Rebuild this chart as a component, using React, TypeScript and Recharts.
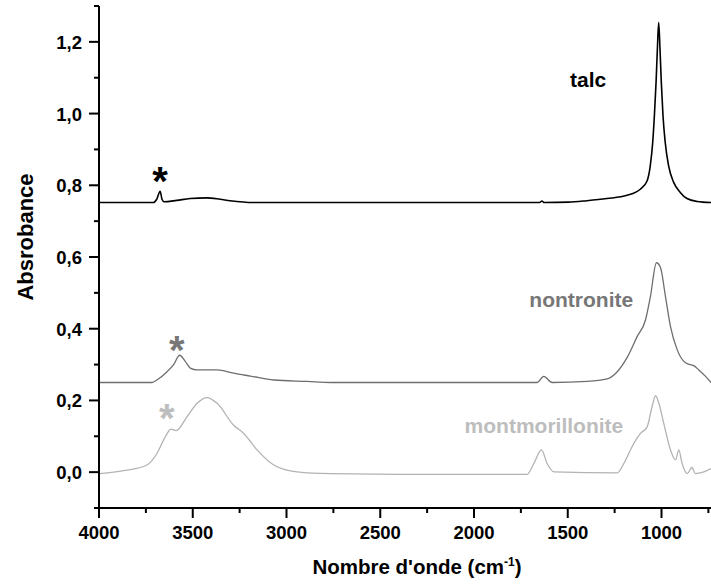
import { LineChart, Line, XAxis, YAxis, ReferenceDot } from 'recharts';

// wavenumbers (cm-1) and absorbance
const talcWn = [3995, 3710, 3692, 3674, 3664, 3653, 3585, 3514, 3425, 3354, 3301, 3177, 1700, 1650, 1638, 1625, 1496, 1398, 1291, 1184, 1113, 1077, 1060, 1047, 1038, 1029, 1022, 1015, 1008, 1001, 992, 980, 962, 935, 900, 864, 811, 736];
const talcAbs = [0.752, 0.752, 0.761, 0.783, 0.761, 0.754, 0.758, 0.763, 0.765, 0.761, 0.757, 0.752, 0.752, 0.752, 0.756, 0.752, 0.753, 0.757, 0.763, 0.772, 0.789, 0.812, 0.854, 0.919, 0.994, 1.087, 1.18, 1.254, 1.18, 1.087, 0.994, 0.919, 0.854, 0.808, 0.78, 0.763, 0.755, 0.752];

const nontWn = [3995, 3717, 3691, 3637, 3602, 3570, 3540, 3513, 3477, 3370, 3282, 3193, 3068, 2890, 2766, 1663, 1628, 1583, 1396, 1290, 1236, 1183, 1130, 1085, 1059, 1027, 1005, 979, 952, 916, 881, 860, 845, 828, 801, 765, 736];
const nontAbs = [0.25, 0.25, 0.257, 0.28, 0.3, 0.326, 0.309, 0.29, 0.285, 0.285, 0.276, 0.268, 0.257, 0.253, 0.25, 0.25, 0.267, 0.25, 0.253, 0.26, 0.28, 0.32, 0.378, 0.425, 0.49, 0.584, 0.57, 0.49, 0.406, 0.341, 0.309, 0.302, 0.3, 0.297, 0.285, 0.267, 0.25];

const montWn = [3995, 3869, 3744, 3691, 3646, 3616, 3588, 3530, 3477, 3424, 3370, 3282, 3228, 3157, 3068, 2944, 2766, 2339, 1716, 1681, 1640, 1610, 1574, 1236, 1201, 1148, 1112, 1076, 1050, 1032, 1014, 988, 952, 925, 908, 890, 863, 837, 820, 774, 736];
const montAbs = [-0.004, 0.004, 0.02, 0.052, 0.099, 0.12, 0.116, 0.155, 0.192, 0.208, 0.192, 0.131, 0.108, 0.062, 0.02, 0.001, -0.004, -0.006, -0.006, 0.024, 0.062, 0.024, 0.001, -0.002, 0.024, 0.08, 0.108, 0.127, 0.183, 0.213, 0.192, 0.136, 0.062, 0.034, 0.062, 0.024, -0.004, 0.013, -0.004, 0.001, 0.01];

const xTicks = [4000, 3750, 3500, 3250, 3000, 2750, 2500, 2250, 2000, 1750, 1500, 1250, 1000, 750];
const yTicks = [-0.1, 0, 0.1, 0.2, 0.3, 0.4, 0.5, 0.6, 0.7, 0.8, 0.9, 1.0, 1.1, 1.2, 1.3];

const toPoints = (wn: number[], abs: number[]) => wn.map((w, i) => ({ wn: w, a: abs[i] }));
const talc = toPoints(talcWn, talcAbs);
const nontronite = toPoints(nontWn, nontAbs);
const montmorillonite = toPoints(montWn, montAbs);

const FONT = '"Liberation Sans", Arial, sans-serif';

function BottomTick({ x, y, payload }: any) {
  const major = payload.value % 500 === 0;
  return (
    <g>
      <line x1={x} x2={x} y1={y} y2={y + (major ? 10 : 5)} stroke="#000" strokeWidth={2} />
      {major && (
        <text x={x} y={y + 31} textAnchor="middle" fontSize={18.5} fontWeight="bold" fontFamily={FONT} fill="#000">
          {payload.value}
        </text>
      )}
    </g>
  );
}

function TopTick({ x, y, payload }: any) {
  const major = payload.value % 500 === 0;
  return <line x1={x} x2={x} y1={y} y2={y + (major ? 10 : 6)} stroke="#000" strokeWidth={2} />;
}

function LeftTick({ x, y, payload }: any) {
  const n = Math.round(payload.value * 10);
  const major = n % 2 === 0;
  return (
    <g>
      <line x1={x} x2={x - (major ? 10 : 5)} y1={y} y2={y} stroke="#000" strokeWidth={2} />
      {major && (
        <text x={x - 17} y={y + 7} textAnchor="end" fontSize={18.5} fontWeight="bold" fontFamily={FONT} fill="#000">
          {(n / 10).toFixed(1).replace('.', ',')}
        </text>
      )}
    </g>
  );
}

const note = (text: string, color: string, size: number, dy: number) => ({
  content: ({ viewBox }: any) => (
    <text x={viewBox.x} y={viewBox.y + dy} textAnchor="middle" fontSize={size} fontWeight="bold" fontFamily={FONT} fill={color}>
      {text}
    </text>
  ),
});

export default function App() {
  return (
    <div style={{ position: 'absolute', left: 0, top: 0, background: '#fff' }}>
      <LineChart width={711} height={588} margin={{ top: 6, right: 0, bottom: 0, left: 0 }}>
        <XAxis
          dataKey="wn"
          type="number"
          domain={[736, 4000]}
          reversed
          allowDataOverflow
          ticks={xTicks}
          interval={0}
          height={80}
          tickSize={0}
          tickMargin={0}
          tickLine={false}
          axisLine={{ stroke: '#000', strokeWidth: 2 }}
          tick={<BottomTick />}
          label={{
            content: ({ viewBox }: any) => (
              <text x={viewBox.x + viewBox.width / 2 + 12} y={viewBox.y + 66} textAnchor="middle" fontSize={20.5} fontWeight="bold" fontFamily={FONT} fill="#000">
                Nombre d'onde (cm<tspan dy={-8} fontSize={12}>-1</tspan><tspan dy={8}>)</tspan>
              </text>
            ),
          }}
        />
        <XAxis
          xAxisId="top"
          orientation="top"
          dataKey="wn"
          type="number"
          domain={[736, 4000]}
          reversed
          allowDataOverflow
          ticks={xTicks}
          interval={0}
          height={0}
          tickSize={0}
          tickMargin={0}
          tickLine={false}
          axisLine={{ stroke: '#000', strokeWidth: 2 }}
          tick={<TopTick />}
        />
        <YAxis
          dataKey="a"
          type="number"
          domain={[-0.1, 1.3]}
          allowDataOverflow
          ticks={yTicks}
          interval={0}
          width={99}
          tickSize={0}
          tickMargin={0}
          tickLine={false}
          axisLine={{ stroke: '#000', strokeWidth: 2 }}
          tick={<LeftTick />}
          label={{
            content: ({ viewBox }: any) => {
              const cx = viewBox.x + 33;
              const cy = viewBox.y + viewBox.height / 2 - 20;
              return (
                <text x={cx} y={cy} transform={`rotate(-90 ${cx} ${cy})`} textAnchor="middle" fontSize={22} fontWeight="bold" fontFamily={FONT} fill="#000">
                  Absrobance
                </text>
              );
            },
          }}
        />
        <Line data={montmorillonite} dataKey="a" type="monotone" stroke="#b3b3b3" strokeWidth={1.3} dot={false} isAnimationActive={false} />
        <Line data={nontronite} dataKey="a" type="monotone" stroke="#6e6e6e" strokeWidth={1.3} dot={false} isAnimationActive={false} />
        <Line data={talc} dataKey="a" type="monotone" stroke="#000" strokeWidth={1.6} dot={false} isAnimationActive={false} />

        <ReferenceDot x={1391} y={1.074} r={0} stroke="none" label={note('talc', '#000', 21, 0)} />
        <ReferenceDot x={1428} y={0.461} r={0} stroke="none" label={note('nontronite', '#777', 21, 0)} />
        <ReferenceDot x={1627} y={0.109} r={0} stroke="none" label={note('montmorillonite', '#bdbdbd', 21, 0)} />
        <ReferenceDot x={3675} y={0.836} r={0} stroke="none" label={note('*', '#000', 40, 23)} />
        <ReferenceDot x={3585} y={0.366} r={0} stroke="none" label={note('*', '#777', 40, 23)} />
        <ReferenceDot x={3639} y={0.176} r={0} stroke="none" label={note('*', '#bdbdbd', 40, 23)} />
      </LineChart>
    </div>
  );
}
